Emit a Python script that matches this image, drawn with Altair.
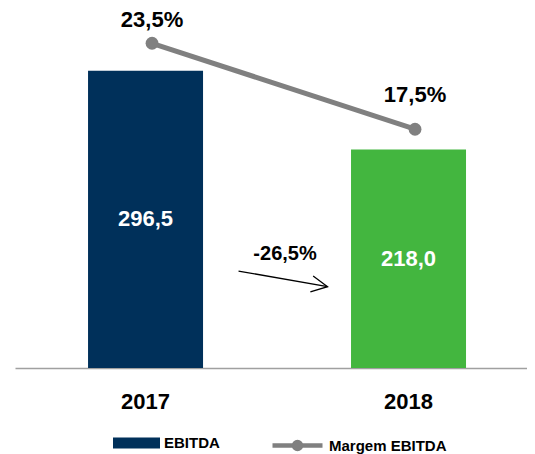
import altair as alt
import pandas as pd

# ---- data ----
years = ["2017", "2018"]
ebitda = [296.5, 218.0]
margem = [23.5, 17.5]
serie_bar = "EBITDA"
serie_line = "Margem EBITDA"

# annotation arrow (in EBITDA units)
arrow_y = [96.7, 81.1]
arrow_text_y = [113.7]

# ---- styles ----
NAVY = "#00305a"
GREEN = "#43b63f"
GRAY = "#808080"
FONT = "Liberation Sans"
MARGIN_LABEL_DY = [-23, -34]


def br(v, dec=1):
    return f"{v:.{dec}f}".replace(".", ",")


change = (ebitda[1] - ebitda[0]) / ebitda[0] * 100
change_label = br(change) + "%"

df = pd.DataFrame({
    "year": years,
    "ebitda": ebitda,
    "margem": margem,
    "ebitda_lbl": [br(v) for v in ebitda],
    "margem_lbl": [br(v) + "%" for v in margem],
    "serie": [serie_line] * len(years),
})

ann = pd.DataFrame({
    "x0": [years[0]],
    "x1": [years[1]],
    "y0": [arrow_y[0]],
    "y1": [arrow_y[1]],
    "yt": arrow_text_y,
    "txt": [change_label],
})

x_axis = alt.Axis(title=None, labelAngle=0, ticks=False, domainColor="#a0a0a0",
                  domainWidth=1.5, labelFont=FONT, labelFontSize=22,
                  labelFontWeight="bold", labelColor="black", labelPadding=23,
                  grid=False)
x_scale = alt.Scale(paddingInner=0.5627, paddingOuter=0.2548, align=0.545)


def X(field):
    return alt.X(field, scale=x_scale, axis=x_axis)


y_left = alt.Scale(domain=[0, 359], nice=False, zero=True)
y_right = alt.Scale(domain=[0.84, 25.96], nice=False, zero=False)

base = alt.Chart(df)

bars = base.mark_bar().encode(
    x=X("year:N"),
    y=alt.Y("ebitda:Q", scale=y_left, axis=None),
    color=alt.Color(
        "year:N",
        scale=alt.Scale(domain=years, range=[NAVY, GREEN]),
        legend=alt.Legend(
            values=[years[0]], labelExpr=f"'{serie_bar}'", orient="none",
            legendX=98, legendY=411.5, title=None, padding=0,
            symbolType="M-1,-0.234H1V0.234H-1Z", symbolSize=2209,
            symbolStrokeWidth=0, labelFont=FONT, labelFontSize=15,
            labelFontWeight="bold", labelColor="black", labelOffset=4,
        ),
    ),
)

bar_labels = base.transform_calculate(mid="datum.ebitda / 2").mark_text(
    color="white", font=FONT, fontSize=22, fontWeight="bold", baseline="middle"
).encode(
    x=X("year:N"),
    y=alt.Y("mid:Q", scale=y_left, axis=None),
    text="ebitda_lbl:N",
)

annc = alt.Chart(ann)
arrow_line = annc.mark_rule(color="black", strokeWidth=1.3, xOffset=93, x2Offset=-81).encode(
    x=X("x0:N"), x2="x1", y=alt.Y("y0:Q", scale=y_left, axis=None), y2="y1"
)
arrow_head = annc.mark_point(
    shape="M-1,-0.5L0,0L-1,0.5", filled=False, size=1024, angle=10,
    color="black", strokeWidth=1.3, opacity=1, xOffset=-81,
).encode(x=X("x1:N"), y=alt.Y("y1:Q", scale=y_left, axis=None))
arrow_text = annc.mark_text(
    font=FONT, fontSize=20, fontWeight="bold", color="black", xOffset=139.5,
    baseline="middle",
).encode(x=X("x0:N"), y=alt.Y("yt:Q", scale=y_left, axis=None), text="txt:N")

left = alt.layer(bars, bar_labels, arrow_line, arrow_head, arrow_text)

line_color = alt.Color(
    "serie:N",
    scale=alt.Scale(domain=[serie_line], range=[GRAY]),
    legend=alt.Legend(
        orient="none", legendX=255, legendY=410, title=None, padding=0,
        symbolType="M-1,0H1M0.14,0A0.14,0.14,0,1,1,-0.14,0A0.14,0.14,0,1,1,0.14,0",
        symbolSize=2500, symbolStrokeWidth=4.5, symbolFillColor=GRAY,
        symbolStrokeColor=GRAY, labelFont=FONT, labelFontSize=15,
        labelFontWeight="bold", labelColor="black", labelOffset=4,
    ),
)

line = base.mark_line(strokeWidth=5, xOffset=6.5).encode(
    x=X("year:N"), y=alt.Y("margem:Q", scale=y_right, axis=None), color=line_color
)
points = base.mark_circle(size=165, opacity=1, xOffset=6.5).encode(
    x=X("year:N"), y=alt.Y("margem:Q", scale=y_right, axis=None), color=line_color
)
margin_labels = [
    base.transform_filter(alt.datum.year == yr).mark_text(
        font=FONT, fontSize=22, fontWeight="bold", color="black",
        dy=MARGIN_LABEL_DY[i], xOffset=6.5, baseline="middle",
    ).encode(x=X("year:N"), y=alt.Y("margem:Q", scale=y_right, axis=None),
             text="margem_lbl:N")
    for i, yr in enumerate(years)
]

right = alt.layer(line, points, *margin_labels)

chart = alt.layer(left, right).resolve_scale(
    y="independent", color="independent"
).properties(
    width=512, height=360,
    autosize=alt.AutoSizeParams(type="none"),
    padding={"left": 7, "top": 0, "right": 0, "bottom": 86},
).configure_view(stroke=None)

chart.save("out.html", embed_options={"renderer": "svg", "actions": False})
